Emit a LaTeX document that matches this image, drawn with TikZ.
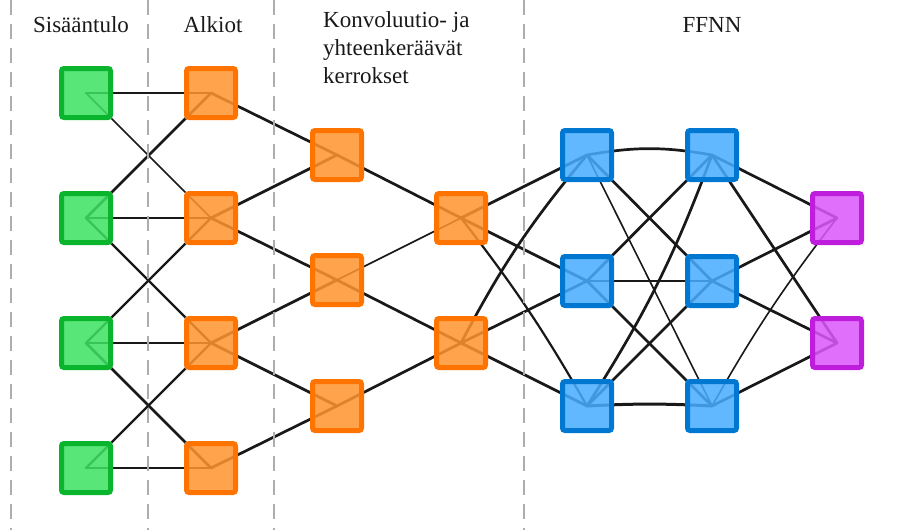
\documentclass[tikz,border=0pt]{standalone}
\usepackage{fontspec}
\setmainfont{Liberation Serif}
\definecolor{gbord}{RGB}{10,180,45}
\definecolor{gfill}{RGB}{60,226,98}
\definecolor{obord}{RGB}{255,115,0}
\definecolor{ofill}{RGB}{255,148,48}
\definecolor{bbord}{RGB}{0,120,210}
\definecolor{bfill}{RGB}{72,172,255}
\definecolor{pbord}{RGB}{190,30,220}
\definecolor{pfill}{RGB}{219,88,252}
\pgfdeclarelayer{bg}
\pgfsetlayers{bg,main}
\begin{document}
\begin{tikzpicture}[x=1pt,y=-1pt,
  nd/.style={draw,rectangle,rounded corners=2.5pt,line width=5pt,minimum size=49pt,inner sep=0pt,fill opacity=0.86},
  gn/.style={nd,draw=gbord,fill=gfill},
  on/.style={nd,draw=obord,fill=ofill},
  bn/.style={nd,draw=bbord,fill=bfill},
  pn/.style={nd,draw=pbord,fill=pfill},
  ln/.style={line width=2.7pt,black!90,line cap=round},
  thn/.style={line width=1.6pt,black!90,line cap=round},
  sep/.style={draw=black!32,line width=1.6pt,dash pattern=on 15pt off 9pt},
  lab/.style={font=\fontsize{23}{28}\selectfont,inner sep=0pt,text=black!90}]
\useasboundingbox (0,0) rectangle (903,530);
% separators
\draw[sep] (11,0) -- (11,530);
\draw[sep] (148,0) -- (148,530);
\draw[sep] (274,0) -- (274,530);
\draw[sep] (524,0) -- (524,530);
% labels
\node[lab,anchor=base] (t1) at (81,32) {Sisääntulo};
\node[lab,anchor=base] (t2) at (213,32) {Alkiot};
\node[lab,anchor=north west,align=left] (t3) at (323,11) {Konvoluutio- ja\\yhteenkeräävät\\kerrokset};
\node[lab,anchor=base] (t4) at (712,32) {FFNN};
% nodes
\node[gn] (i1) at (86,93) {};
\node[gn] (i2) at (86,218) {};
\node[gn] (i3) at (86,343) {};
\node[gn] (i4) at (86,468) {};
\node[on] (a1) at (211,93) {};
\node[on] (a2) at (211,218) {};
\node[on] (a3) at (211,343) {};
\node[on] (a4) at (211,468) {};
\node[on] (c1) at (337,155) {};
\node[on] (c2) at (337,280) {};
\node[on] (c3) at (337,406) {};
\node[on] (d1) at (461,218) {};
\node[on] (d2) at (461,343) {};
\node[bn] (b1) at (587,155) {};
\node[bn] (b2) at (587,281) {};
\node[bn] (b3) at (587,406) {};
\node[bn] (e1) at (712,155) {};
\node[bn] (e2) at (712,281) {};
\node[bn] (e3) at (712,406) {};
\node[pn] (p1) at (837,218) {};
\node[pn] (p2) at (837,343) {};
% connectors
\begin{pgfonlayer}{bg}
\draw[ln] (i1.center) -- (a1.center);
\draw[thn] (i1.center) -- (a2.center);
\draw[ln] (i2.center) -- (a1.center);
\draw[ln] (i2.center) -- (a2.center);
\draw[ln,line width=2.2pt] (i2.center) -- (a3.center);
\draw[ln,line width=2.2pt] (i3.center) -- (a2.center);
\draw[ln] (i3.center) -- (a3.center);
\draw[ln] (i3.center) -- (a4.center);
\draw[ln,line width=2.2pt] (i4.center) -- (a3.center);
\draw[ln] (i4.center) -- (a4.center);
\draw[ln] (a1.center) -- (c1.center);
\draw[ln] (a2.center) -- (c1.center);
\draw[ln] (a2.center) -- (c2.center);
\draw[ln] (a3.center) -- (c2.center);
\draw[ln] (a3.center) -- (c3.center);
\draw[ln] (a4.center) -- (c3.center);
\draw[ln] (c1.center) -- (d1.center);
\draw[thn] (c2.center) -- (d1.center);
\draw[ln] (c2.center) -- (d2.center);
\draw[ln] (c3.center) -- (d2.center);
\draw[ln] (d1.center) -- (b1.center);
\draw[ln] (d1.center) -- (b2.center);
\draw[ln,line width=2.2pt] (d1.center) to[bend left=4] (b3.center);
\draw[ln] (d2.center) to[bend left=6] (b1.center);
\draw[ln] (d2.center) -- (b2.center);
\draw[ln] (d2.center) -- (b3.center);
\draw[ln] (b1.center) to[bend left=10] (e1.center);
\draw[ln] (b1.center) -- (e2.center);
\draw[thn] (b1.center) -- (e3.center);
\draw[ln] (b2.center) -- (e1.center);
\draw[ln] (b2.center) -- (e2.center);
\draw[ln] (b2.center) -- (e3.center);
\draw[ln] (b3.center) to[bend right=6] (e1.center);
\draw[ln] (b3.center) -- (e2.center);
\draw[ln,line width=3pt] (b3.center) to[bend left=3] (e3.center);
\draw[ln] (e1.center) -- (p1.center);
\draw[ln] (e1.center) -- (p2.center);
\draw[ln] (e2.center) -- (p1.center);
\draw[ln] (e2.center) -- (p2.center);
\draw[thn] (e3.center) to[bend left=4] (p1.center);
\draw[ln] (e3.center) -- (p2.center);
\end{pgfonlayer}
\end{tikzpicture}
\end{document}
